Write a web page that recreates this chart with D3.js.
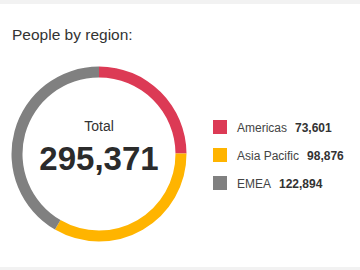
<!DOCTYPE html>
<html>
<head>
<meta charset="utf-8">
<script src="https://cdn.jsdelivr.net/npm/d3@7"></script>
<style>
  html, body { margin: 0; padding: 0; background: #f2f2f2; }
  svg { display: block; font-family: "Liberation Sans", Arial, Helvetica, sans-serif; }
</style>
</head>
<body>
<svg id="chart" width="360" height="270"></svg>
<script>
// data
var regions = ["Americas", "Asia Pacific", "EMEA"];
var people = [73601, 98876, 122894];
var colors = ["#dc3a55", "#ffb400", "#808080"];
var title = "People by region:";

var svg = d3.select("#chart"),
    width = +svg.attr("width"),
    height = +svg.attr("height");

// white card
svg.append("rect")
    .attr("x", 0).attr("y", 4)
    .attr("width", width).attr("height", 263)
    .attr("fill", "#fff");

svg.append("text")
    .attr("x", 12).attr("y", 40)
    .attr("font-size", 15.5)
    .attr("fill", "#333")
    .text(title);

// donut
var cx = 99, cy = 154, outer = 87.5, inner = 76.5;
var total = d3.sum(people);

var pie = d3.pie().sort(null).value(function (d) { return d; });
var arc = d3.arc().innerRadius(inner).outerRadius(outer);
var color = d3.scaleOrdinal().domain(regions).range(colors);

var g = svg.append("g")
    .attr("transform", "translate(" + cx + "," + cy + ")");

g.selectAll("path")
    .data(pie(people))
    .enter().append("path")
    .attr("d", arc)
    .attr("fill", function (d, i) { return color(regions[i]); });

g.append("text")
    .attr("y", -23)
    .attr("text-anchor", "middle")
    .attr("font-size", 14)
    .attr("fill", "#333")
    .text("Total");

g.append("text")
    .attr("y", 16)
    .attr("text-anchor", "middle")
    .attr("font-size", 33)
    .attr("font-weight", "bold")
    .attr("fill", "#2b2b2b")
    .text(d3.format(",")(total));

// legend
var fmt = d3.format(",");
var legend = svg.append("g")
    .attr("transform", "translate(213,120)");

var row = legend.selectAll(".row")
    .data(regions)
    .enter().append("g")
    .attr("class", "row")
    .attr("transform", function (d, i) { return "translate(0," + (i * 28) + ")"; });

row.append("rect")
    .attr("width", 14).attr("height", 14)
    .attr("fill", function (d) { return color(d); });

var label = row.append("text")
    .attr("x", 24).attr("y", 11.5)
    .attr("font-size", 12)
    .attr("fill", "#444");

label.append("tspan")
    .text(function (d) { return d; });

label.append("tspan")
    .attr("dx", 8)
    .attr("font-weight", "bold")
    .attr("fill", "#333")
    .text(function (d, i) { return fmt(people[i]); });
</script>
</body>
</html>
